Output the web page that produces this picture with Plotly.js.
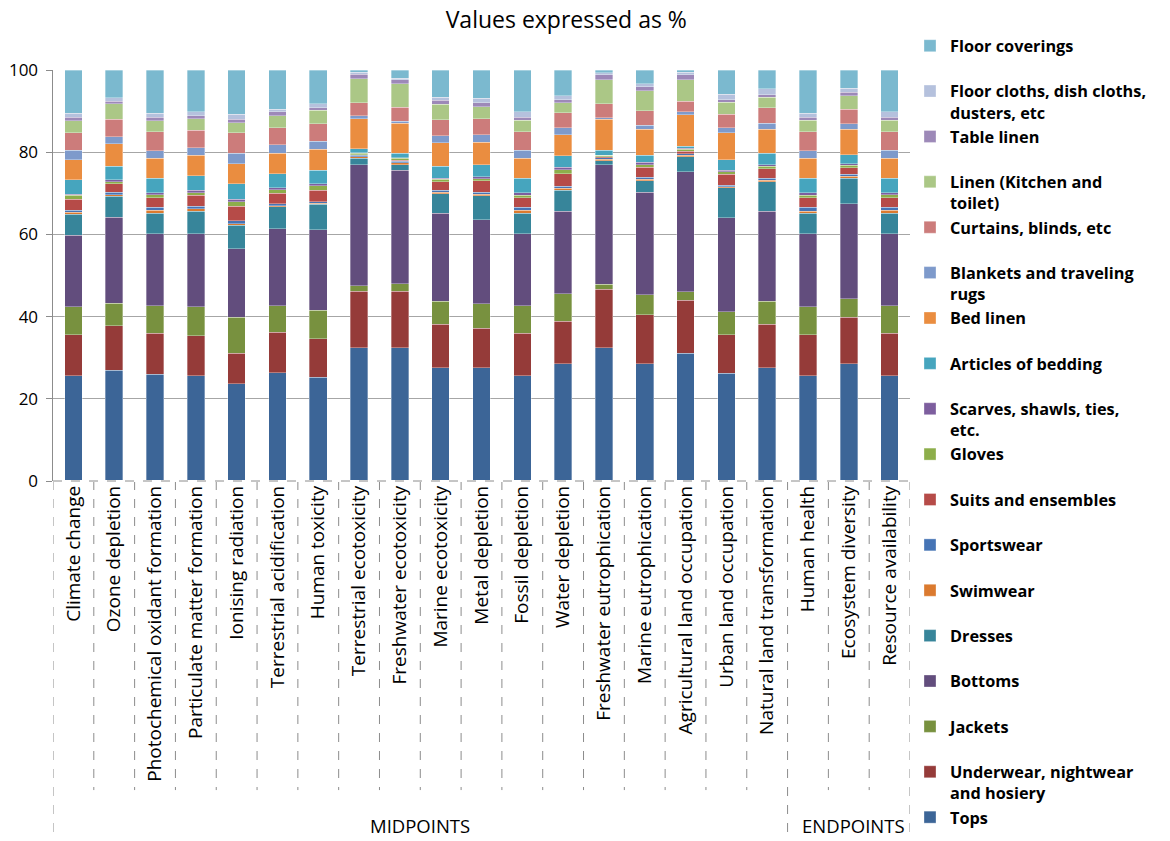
<!DOCTYPE html>
<html>
<head>
<meta charset="utf-8">
<script src="https://cdn.plot.ly/plotly-3.0.1.min.js"></script>
<style>html,body{margin:0;padding:0;background:#fff;}#chart{width:1170px;height:841px;}</style>
</head>
<body>
<div id="chart"></div>
<script>
const categories = ["Climate change","Ozone depletion","Photochemical oxidant formation","Particulate matter formation","Ionising radiation","Terrestrial acidification","Human toxicity","Terrestrial ecotoxicity","Freshwater ecotoxicity","Marine ecotoxicity","Metal depletion","Fossil depletion","Water depletion","Freshwater eutrophication","Marine eutrophication","Agricultural land occupation","Urban land occupation","Natural land transformation","Human health","Ecosystem diversity","Resource availability"];

const groupLabels = ["MIDPOINTS","ENDPOINTS"];

// Values (%) per product group, bottom of the stack first
const tops          = [25.6,27.0,26.0,25.6,23.7,26.3,25.2,32.4,32.4,27.5,27.5,25.6,28.5,32.4,28.5,31.1,26.2,27.5,25.6,28.5,25.6];
const underwear     = [10.0,10.8,9.9,9.7,7.4,9.9,9.4,13.8,13.8,10.6,9.7,10.3,10.4,14.2,11.9,12.9,9.4,10.7,10.0,11.3,10.3];
const jackets       = [6.8,5.5,6.8,7.1,8.7,6.5,6.9,1.3,1.8,5.6,5.9,6.8,6.7,1.3,4.9,2.1,5.6,5.5,6.8,4.5,6.8];
const bottoms       = [17.4,20.9,17.5,17.8,16.7,18.7,19.6,29.4,27.6,21.5,20.5,17.5,20.0,29.1,25.0,29.1,22.8,21.9,17.8,23.1,17.5];
const dresses       = [5.1,5.1,5.0,5.4,5.7,5.3,6.2,1.6,1.4,4.7,5.8,5.0,5.1,0.9,2.8,3.7,7.4,7.2,5.0,6.3,5.0];
const swimwear      = [0.5,0.4,0.7,0.6,0.4,0.3,0.3,0.4,0.4,0.3,0.4,0.7,0.5,0.4,0.3,0.3,0.2,0.4,0.4,0.4,0.7];
const sportswear    = [0.5,0.5,0.7,0.6,0.7,0.5,0.4,0.4,0.4,0.6,0.5,0.7,0.5,0.3,0.5,0.4,0.4,0.5,1.0,0.5,0.7];
const suits         = [2.6,2.1,2.3,2.7,3.6,2.5,2.7,0.1,0.2,2.0,2.7,2.3,3.1,0.3,2.4,0.6,2.6,2.3,2.3,1.6,2.3];
const gloves        = [1.0,0.5,0.8,0.6,1.0,0.9,1.1,0.4,0.5,0.6,0.6,0.6,0.9,0.3,0.6,0.5,0.7,0.6,0.6,0.6,0.8];
const scarves       = [0.3,0.5,0.4,0.7,0.6,0.5,0.5,0.1,0.1,0.3,0.4,0.6,0.6,0.1,0.7,0.3,0.3,0.3,0.6,0.4,0.4];
const bedding       = [3.5,3.3,3.6,3.5,3.8,3.3,3.3,0.9,1.2,2.9,2.9,3.6,2.8,1.2,1.6,0.5,2.6,2.8,3.6,2.2,3.6];
const bedLinen      = [4.9,5.4,4.8,4.9,4.9,5.1,5.1,7.3,7.2,5.7,5.5,4.8,5.1,7.5,6.4,7.6,6.5,5.9,4.8,6.2,4.8];
const blankets      = [2.3,1.7,1.9,1.9,2.6,2.0,2.0,0.8,0.5,1.7,1.8,2.0,1.7,0.4,1.0,0.7,1.2,1.4,1.9,1.3,2.0];
const curtains      = [4.2,4.3,4.6,4.2,4.9,4.1,4.2,3.1,3.4,3.9,3.9,4.5,3.7,3.4,3.5,2.6,3.3,3.8,4.6,3.5,4.5];
const linen         = [2.9,3.8,2.6,2.9,2.5,3.0,3.3,5.9,5.7,3.8,3.0,2.8,2.4,5.8,4.9,5.2,3.0,2.6,2.8,3.3,2.8];
const tableLinen    = [0.9,0.6,0.9,0.7,0.8,0.9,0.6,1.1,1.0,1.0,0.9,0.7,0.8,1.2,0.9,1.2,0.6,0.6,0.7,0.9,0.7];
const floorCloths   = [1.0,0.9,1.0,0.9,1.2,0.7,1.0,0.4,0.4,0.7,1.1,1.3,0.9,0.5,0.7,0.6,1.3,1.4,1.0,1.0,1.3];
const floorCoverings= [10.5,6.7,10.5,10.2,10.8,9.5,8.2,0.6,2.0,6.6,6.9,10.2,6.3,0.7,3.4,0.6,5.9,4.6,10.5,4.4,10.2];

const seriesNames = ["Tops","Underwear, nightwear<br>and hosiery","Jackets","Bottoms","Dresses","Swimwear","Sportswear","Suits and ensembles","Gloves","Scarves, shawls, ties,<br>etc.","Articles of bedding","Bed linen","Blankets and traveling<br>rugs","Curtains, blinds, etc","Linen (Kitchen and<br>toilet)","Table linen","Floor cloths, dish cloths,<br>dusters, etc","Floor coverings"];
const seriesValues = [tops,underwear,jackets,bottoms,dresses,swimwear,sportswear,suits,gloves,scarves,bedding,bedLinen,blankets,curtains,linen,tableLinen,floorCloths,floorCoverings];
const seriesColors = ["#3C6597","#953B39","#78913F","#624D7D","#37859A","#DB7A2F","#4674B5","#B64B48","#8DAE4B","#7D5E9E","#46A5BE","#EA8D40","#7E9ACB","#CC7C7B","#ABC786","#9D89B8","#B5C1DD","#7BB9CF"];

const traces = seriesNames.map((name, i) => ({
  type: "bar",
  name: name.includes("<br>") ? name : name + "<br> ",
  x: categories,
  y: seriesValues[i],
  legendgroup: "g" + i,
  marker: {color: seriesColors[i], line: {color: "rgba(255,255,255,0.55)", width: 0.6}},
  hoverinfo: "name+y"
}));

const shapes = [];
for (let k = 1; k < categories.length; k++) {
  const isGroup = (k === 18);
  shapes.push({type: "line", xref: "x", yref: "paper", x0: k - 0.5, x1: k - 0.5, y0: 0, y1: isGroup ? -0.876 : -0.752,
    line: {color: "#8c8c8c", width: 1, dash: "dash"}, layer: "above"});
}
[-0.5, categories.length - 0.5].forEach(xv => shapes.push({type: "line", xref: "x", yref: "paper", x0: xv, x1: xv, y0: 0, y1: -0.876,
  line: {color: "#8c8c8c", width: 1, dash: "dash"}, layer: "above"}));
shapes.push({type: "line", xref: "x", yref: "paper", x0: -0.5, x1: categories.length - 0.5, y0: 0, y1: 0, line: {color: "#ffffff", width: 2}, layer: "above"});
shapes.push({type: "line", xref: "x", yref: "paper", x0: -0.5, x1: categories.length - 0.5, y0: 0, y1: 0, line: {color: "#8c8c8c", width: 1, dash: "dash"}, layer: "above"});

const annotations = [
  {text: groupLabels[0], xref: "x", yref: "paper", x: 8.5, y: -0.837, yanchor: "middle", showarrow: false, font: {family: "Open Sans, sans-serif", size: 18.5, color: "#000"}},
  {text: groupLabels[1], xref: "x", yref: "paper", x: 19.12, y: -0.837, yanchor: "middle", showarrow: false, font: {family: "Open Sans, sans-serif", size: 18.5, color: "#000"}}
];

const layout = {
  width: 1170, height: 841,
  margin: {l: 53, r: 260, t: 70, b: 360, autoexpand: false},
  paper_bgcolor: "#fff", plot_bgcolor: "#fff",
  barmode: "stack", bargap: 0.57,
  title: {text: "Values expressed as %", xref: "container", x: 0.484, xanchor: "center", yref: "container", y: 0.976, yanchor: "middle",
    font: {family: "Open Sans, sans-serif", size: 23, color: "#000"}},
  font: {family: "Open Sans, sans-serif", color: "#000"},
  xaxis: {type: "category", tickangle: -90, tickfont: {family: "Open Sans, sans-serif", size: 19, color: "#000"},
    showline: false, ticks: "", showgrid: false, zeroline: false, range: [-0.5, categories.length - 0.5], fixedrange: true, automargin: false},
  yaxis: {range: [0, 100], tickvals: [0, 20, 40, 60, 80, 100], tickfont: {family: "Open Sans, sans-serif", size: 17, color: "#000"},
    showline: true, linecolor: "#8c8c8c", linewidth: 1.5, ticks: "outside", ticklen: 6, tickcolor: "#8c8c8c", ticklabelstandoff: 4,
    showgrid: true, gridcolor: "#a6a6a6", gridwidth: 1, zeroline: false, fixedrange: true, automargin: false},
  legend: {traceorder: "reversed", x: 1.0, xanchor: "left", yref: "container", y: 0.966, yanchor: "top", valign: "top", maxheight: 841,
    font: {family: "Open Sans, sans-serif", size: 16.3, color: "#000", weight: "bold"}, tracegroupgap: 0, itemwidth: 30, bgcolor: "rgba(0,0,0,0)"},
  shapes: shapes,
  annotations: annotations
};

Plotly.newPlot("chart", traces, layout, {displayModeBar: false, staticPlot: true});
</script>
</body>
</html>
